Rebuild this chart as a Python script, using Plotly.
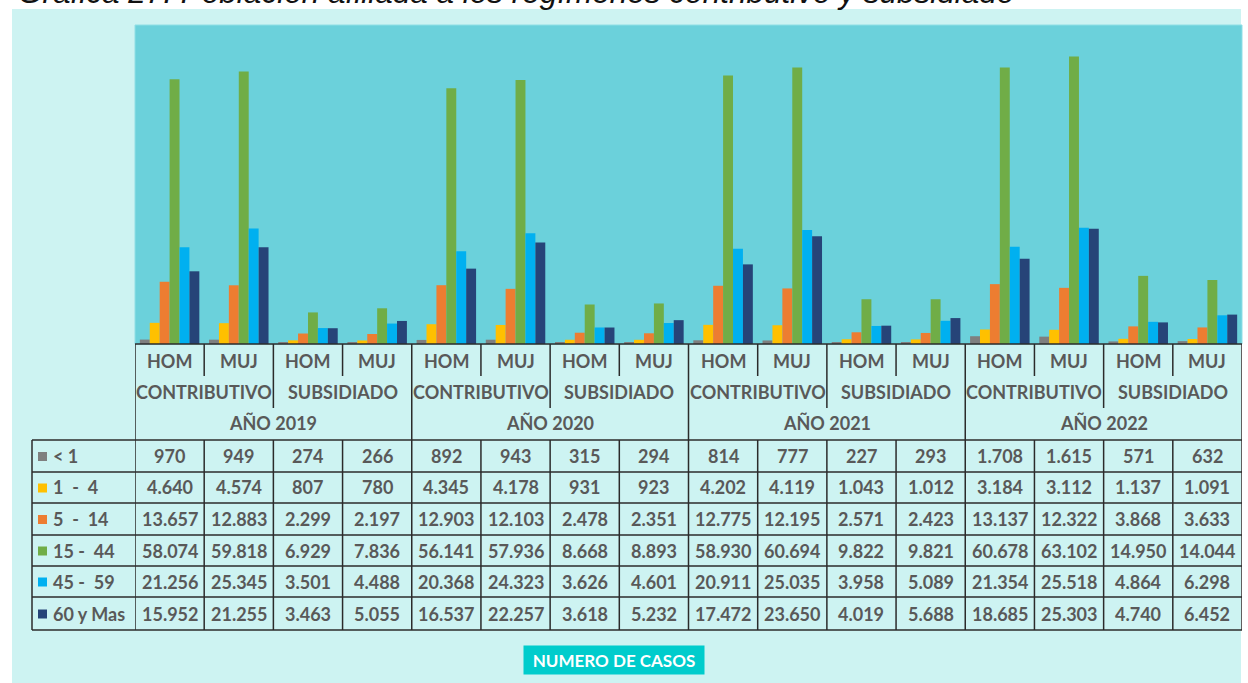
import plotly.graph_objects as go

W, H = 1248, 683

categories = ["HOM", "MUJ", "HOM", "MUJ"] * 4
regimes = ["CONTRIBUTIVO", "SUBSIDIADO"]
years = ["AÑO 2019", "AÑO 2020", "AÑO 2021", "AÑO 2022"]

age_groups = ["< 1", "1\u00a0 -\u00a0 4", "5\u00a0 -\u00a0 14", "15 -\u00a0 44", "45 -\u00a0 59", "60 y Mas"]
colors = ["#7f7f7f", "#ffc000", "#ed7d31", "#70ad47", "#00b0f0", "#264478"]

v_lt1 = [970, 949, 274, 266, 892, 943, 315, 294, 814, 777, 227, 293, 1708, 1615, 571, 632]
v_1_4 = [4640, 4574, 807, 780, 4345, 4178, 931, 923, 4202, 4119, 1043, 1012, 3184, 3112, 1137, 1091]
v_5_14 = [13657, 12883, 2299, 2197, 12903, 12103, 2478, 2351, 12775, 12195, 2571, 2423, 13137, 12322, 3868, 3633]
v_15_44 = [58074, 59818, 6929, 7836, 56141, 57936, 8668, 8893, 58930, 60694, 9822, 9821, 60678, 63102, 14950, 14044]
v_45_59 = [21256, 25345, 3501, 4488, 20368, 24323, 3626, 4601, 20911, 25035, 3958, 5089, 21354, 25518, 4864, 6298]
v_60 = [15952, 21255, 3463, 5055, 16537, 22257, 3618, 5232, 17472, 23650, 4019, 5688, 18685, 25303, 4740, 6452]
series = [v_lt1, v_1_4, v_5_14, v_15_44, v_45_59, v_60]

title_text = "Gráfica 27. Población afiliada a los regímenes contributivo y subsidiado"
xlabel_text = "NUMERO DE CASOS"


def px(x):
    return x / W


def py(y):
    return 1 - y / H


def fmt(v):
    return f"{v:,}".replace(",", ".")


n = len(categories)
xs = list(range(n))

fig = go.Figure()
for name, vals, col in zip(age_groups, series, colors):
    fig.add_trace(go.Bar(x=xs, y=vals, name=name, marker=dict(color=col, line=dict(width=0)),
                         showlegend=False, hoverinfo="y"))

TXT = "#595959"
FONT = "Lato"
LINE = dict(color="#2b2b2b", width=1.5)

shapes = []
# backgrounds
shapes.append(dict(type="rect", xref="paper", yref="paper", x0=px(12), x1=px(1241), y0=py(683), y1=py(9),
                   fillcolor="#cdf3f2", line=dict(width=0), layer="below"))
shapes.append(dict(type="rect", xref="paper", yref="paper", x0=px(135), x1=px(1242), y0=py(344), y1=py(25),
                   fillcolor="#6bd1db", line=dict(color="#8fdfe6", width=1), layer="below"))

# table geometry (pixels for vertical positions)
y_head_top, y_r1, y_r2, y_head_bot = 344, 376, 408, 440
row_lines = [440, 472, 503, 535, 566, 597, 630]

shapes.append(dict(type="line", xref="x", yref="paper", x0=-0.5, x1=n - 0.5, y0=py(y_head_top), y1=py(y_head_top), line=LINE))
for yl in row_lines:
    shapes.append(dict(type="line", xref="paper", yref="paper", x0=px(32), x1=px(1242), y0=py(yl), y1=py(yl), line=LINE))
shapes.append(dict(type="line", xref="paper", yref="paper", x0=px(32), x1=px(32), y0=py(440), y1=py(630), line=LINE))
for i in range(n + 1):
    xb = i - 0.5
    if i % 4 == 0:
        shapes.append(dict(type="line", xref="x", yref="paper", x0=xb, x1=xb, y0=py(630), y1=py(y_head_top), line=LINE))
    else:
        top_end = y_r2 if i % 2 == 0 else y_r1
        shapes.append(dict(type="line", xref="x", yref="paper", x0=xb, x1=xb, y0=py(top_end), y1=py(y_head_top), line=LINE))
        shapes.append(dict(type="line", xref="x", yref="paper", x0=xb, x1=xb, y0=py(630), y1=py(y_head_bot), line=LINE))

annotations = []
fnt = dict(family=FONT, size=18, color=TXT, weight="bold")
common = dict(showarrow=False, yanchor="middle", font=fnt)
for i, c in enumerate(categories):
    annotations.append(dict(x=i, y=py(360.5), xref="x", yref="paper", text=c, xanchor="center", **common))
for k, yr in enumerate(years):
    annotations.append(dict(x=4 * k + 0.5, y=py(392), xref="x", yref="paper", text=regimes[0], xanchor="center", **common))
    annotations.append(dict(x=4 * k + 2.5, y=py(392), xref="x", yref="paper", text=regimes[1], xanchor="center", **common))
    annotations.append(dict(x=4 * k + 1.5, y=py(423.5), xref="x", yref="paper", text=yr, xanchor="center", **common))

for r, (name, vals, col) in enumerate(zip(age_groups, series, colors)):
    yc = (row_lines[r] + row_lines[r + 1]) / 2
    shapes.append(dict(type="rect", xref="paper", yref="paper", x0=px(38), x1=px(47), y0=py(yc + 5), y1=py(yc - 4),
                       fillcolor=col, line=dict(width=0)))
    annotations.append(dict(x=px(51), y=py(yc), xref="paper", yref="paper", text=name, xanchor="left", **common))
    for i, v in enumerate(vals):
        annotations.append(dict(x=i, y=py(yc), xref="x", yref="paper", text=fmt(v), xanchor="center", **common))

annotations.append(dict(x=px(613.5), y=py(660), xref="paper", yref="paper", text=xlabel_text, showarrow=False,
                        xanchor="center", yanchor="middle",
                        bgcolor="#00cccc", width=178, height=26,
                        font=dict(family=FONT, size=17, color="white", weight="bold")))
annotations.append(dict(x=px(16), y=py(12), xref="paper", yref="paper", text="<i>" + title_text + "</i>",
                        showarrow=False, xanchor="left", yanchor="bottom",
                        font=dict(family="Liberation Sans", size=31.5, color="#111111")))

fig.update_layout(
    width=W, height=H,
    margin=dict(l=0, r=0, t=0, b=0),
    paper_bgcolor="white",
    plot_bgcolor="rgba(0,0,0,0)",
    barmode="group", bargap=0.14, bargroupgap=0,
    xaxis=dict(domain=[px(135), px(1242)], range=[-0.5, n - 0.5], visible=False, fixedrange=True),
    yaxis=dict(domain=[py(344), py(25)], range=[0, 70000], visible=False, fixedrange=True),
    shapes=shapes,
    annotations=annotations,
)

fig.write_html("out.html", config={"displayModeBar": False},
               post_script="document.body.style.margin='0';document.body.style.padding='0';document.body.style.overflow='hidden';")
